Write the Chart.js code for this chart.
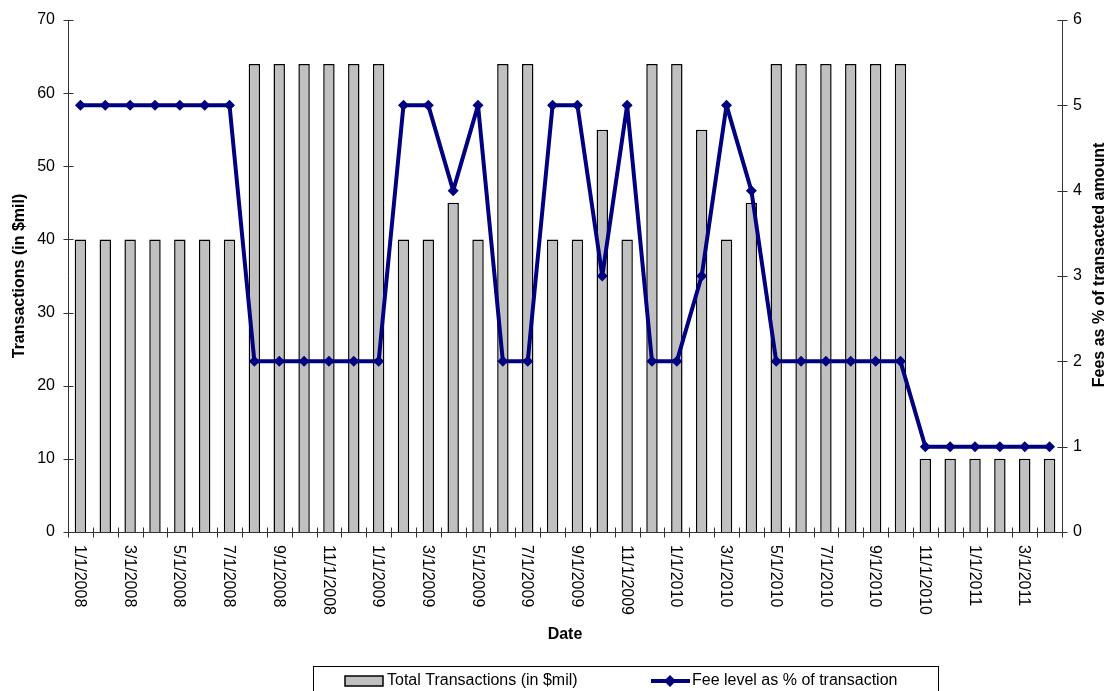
<!DOCTYPE html>
<html>
<head>
<meta charset="utf-8">
<script src="https://cdn.jsdelivr.net/npm/chart.js@4/dist/chart.umd.min.js"></script>
<style>
html, body { margin: 0; padding: 0; background: #fff; }
</style>
</head>
<body>
<canvas id="myChart" width="1112" height="691"></canvas>
<script>
// monthly dates, Jan 2008 - Apr 2011
const dates = [
    "1/1/2008","2/1/2008","3/1/2008","4/1/2008","5/1/2008","6/1/2008",
    "7/1/2008","8/1/2008","9/1/2008","10/1/2008","11/1/2008","12/1/2008",
    "1/1/2009","2/1/2009","3/1/2009","4/1/2009","5/1/2009","6/1/2009",
    "7/1/2009","8/1/2009","9/1/2009","10/1/2009","11/1/2009","12/1/2009",
    "1/1/2010","2/1/2010","3/1/2010","4/1/2010","5/1/2010","6/1/2010",
    "7/1/2010","8/1/2010","9/1/2010","10/1/2010","11/1/2010","12/1/2010",
    "1/1/2011","2/1/2011","3/1/2011","4/1/2011"
];
// total transactions (in $mil)
const transactions = [
    40,40,40,40,40,40,40,64,64,64,64,64,
    64,40,40,45,40,64,64,40,40,55,40,64,
    64,55,40,45,64,64,64,64,64,64,10,10,
    10,10,10,10
];
// fee level as % of transaction
const feeLevels = [
    5,5,5,5,5,5,5,2,2,2,2,2,
    2,5,5,4,5,2,2,5,5,3,5,2,
    2,3,5,4,2,2,2,2,2,2,1,1,
    1,1,1,1
];
const leftMax = 70, leftStep = 10;
const rightMax = 6, rightStep = 1;

const FONT = "'Liberation Sans', Arial, sans-serif";
const NAVY = "#000080";
const BAR_GRAY = "#c0c0c0";

// axes lines, crossing tick marks, rotated date labels, right title, legend box
const extras = {
    id: "extras",
    afterDraw(chart) {
        const ctx = chart.ctx;
        const area = chart.chartArea;
        const xs = chart.scales.x, ys = chart.scales.y, y1 = chart.scales.y1;
        ctx.save();
        ctx.strokeStyle = "#333";
        ctx.lineWidth = 1;
        const L = Math.round(area.left) + 0.5;
        const R = Math.round(area.right) + 0.5;
        const B = Math.round(area.bottom) + 0.5;
        ctx.beginPath();
        ctx.moveTo(L, area.top); ctx.lineTo(L, B);
        ctx.moveTo(R, area.top); ctx.lineTo(R, B);
        ctx.moveTo(L, B); ctx.lineTo(R, B);
        // left ticks
        ys.ticks.forEach(t => {
            const p = Math.round(ys.getPixelForValue(t.value)) + 0.5;
            ctx.moveTo(L - 5, p); ctx.lineTo(L + 5, p);
        });
        y1.ticks.forEach(t => {
            const p = Math.round(y1.getPixelForValue(t.value)) + 0.5;
            ctx.moveTo(R - 5, p); ctx.lineTo(R + 5, p);
        });
        // x ticks between categories
        const half = (xs.getPixelForValue(1) - xs.getPixelForValue(0)) / 2;
        for (let i = 0; i <= dates.length; i++) {
            const c = i < dates.length ? xs.getPixelForValue(i) - half : xs.getPixelForValue(i - 1) + half;
            const p = Math.round(c) + 0.5;
            ctx.moveTo(p, B - 5); ctx.lineTo(p, B + 5);
        }
        ctx.stroke();

        // date labels, every second month, reading top to bottom
        ctx.fillStyle = "#000";
        ctx.font = "16px " + FONT;
        ctx.textAlign = "left";
        ctx.textBaseline = "middle";
        dates.forEach((d, i) => {
            if (i % 2) return;
            ctx.save();
            ctx.translate(xs.getPixelForValue(i) - 1, area.bottom + 13);
            ctx.rotate(Math.PI / 2);
            ctx.fillText(d, 0, 0);
            ctx.restore();
        });

        // right axis title
        ctx.save();
        ctx.font = "bold 16px " + FONT;
        ctx.textAlign = "center";
        ctx.translate(1100, 265);
        ctx.rotate(-Math.PI / 2);
        ctx.fillText("Fees as % of transacted amount", 0, 0);
        ctx.restore();

        // legend
        ctx.strokeStyle = "#000";
        ctx.lineWidth = 1;
        ctx.strokeRect(313.5, 666.5, 625, 34);
        const ly = 681;
        ctx.fillStyle = BAR_GRAY;
        ctx.fillRect(345, ly - 5, 38, 10);
        ctx.lineWidth = 1.5;
        ctx.strokeStyle = "#000";
        ctx.strokeRect(345, ly - 5, 38, 10);
        ctx.fillStyle = "#000";
        ctx.font = "16px " + FONT;
        ctx.textAlign = "left";
        ctx.fillText("Total Transactions (in $mil)", 387, ly);

        ctx.strokeStyle = NAVY;
        ctx.lineWidth = 4;
        ctx.beginPath();
        ctx.moveTo(651, ly); ctx.lineTo(690, ly);
        ctx.stroke();
        ctx.fillStyle = NAVY;
        ctx.beginPath();
        ctx.moveTo(670, ly - 6); ctx.lineTo(676, ly); ctx.lineTo(670, ly + 6); ctx.lineTo(664, ly);
        ctx.closePath();
        ctx.fill();
        ctx.fillStyle = "#000";
        ctx.fillText("Fee level as % of transaction", 692, ly);
        ctx.restore();
    }
};

new Chart("myChart", {
    type: "bar",
    data: {
        labels: dates,
        datasets: [{
            type: "line",
            label: "Fee level as % of transaction",
            data: feeLevels,
            yAxisID: "y1",
            borderColor: NAVY,
            backgroundColor: NAVY,
            borderWidth: 4,
            borderJoinStyle: "round",
            pointStyle: "rectRot",
            pointRadius: 5.5,
            pointBorderWidth: 0,
            tension: 0,
            order: 0
        }, {
            type: "bar",
            label: "Total Transactions (in $mil)",
            data: transactions,
            yAxisID: "y",
            backgroundColor: BAR_GRAY,
            borderColor: "#000",
            borderWidth: 1.5,
            categoryPercentage: 1,
            barPercentage: 0.46,
            order: 1
        }]
    },
    options: {
        responsive: false,
        animation: false,
        layout: { padding: { top: 20, bottom: 31, left: 0, right: 0 } },
        plugins: {
            legend: { display: false },
            tooltip: { enabled: false }
        },
        scales: {
            x: {
                offset: true,
                grid: { display: false },
                border: { display: false },
                ticks: { display: false },
                title: {
                    display: true, text: "Date", color: "#000",
                    font: { family: FONT, size: 16, weight: "bold" },
                    padding: { top: 0, bottom: 16 }
                },
                afterFit: s => { s.height = 128; }
            },
            y: {
                position: "left",
                min: 0, max: leftMax,
                grid: { display: false, drawTicks: true, tickLength: 5 },
                border: { display: false },
                ticks: { stepSize: leftStep, color: "#000", padding: 8, font: { family: FONT, size: 16 } },
                title: {
                    display: true, text: "Transactions (in $mil)", color: "#000",
                    font: { family: FONT, size: 16, weight: "bold" },
                    padding: { top: 10, bottom: 0 }
                },
                afterFit: s => { s.width = 68; }
            },
            y1: {
                position: "right",
                min: 0, max: rightMax,
                grid: { display: false, drawTicks: true, tickLength: 5 },
                border: { display: false },
                ticks: { stepSize: rightStep, color: "#000", padding: 6, font: { family: FONT, size: 16 } },
                afterFit: s => { s.width = 50; }
            }
        }
    },
    plugins: [extras]
});
</script>
</body>
</html>
